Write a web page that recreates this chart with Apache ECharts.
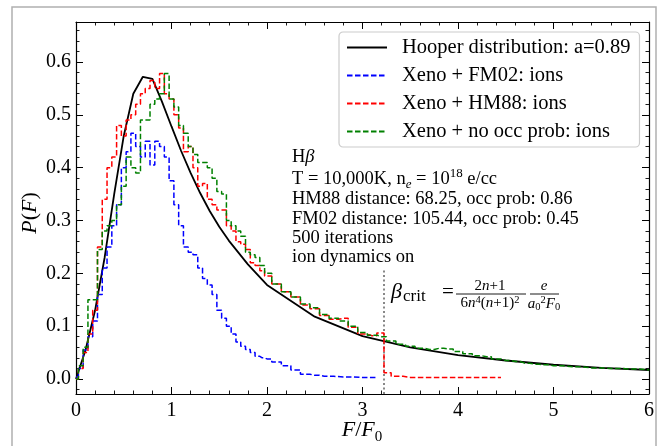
<!DOCTYPE html>
<html><head><meta charset="utf-8">
<script src="https://cdn.jsdelivr.net/npm/echarts@6/dist/echarts.min.js"></script>
<style>html,body{margin:0;padding:0;background:#fff}#c{width:664px;height:446px}</style>
</head><body><div id="c"></div>
<script>
// ---- data ----
const hooperF = [0,0.1,0.2,0.3,0.4,0.5,0.6,0.7,0.8,0.9,1.0,1.1,1.2,1.3,1.4,1.5,1.6,1.8,2.0,2.5,3.0,3.5,4.0,4.5,5.0,5.5,6.0];
const hooperP = [0,0.055,0.13,0.23,0.35,0.46,0.54,0.572,0.568,0.525,0.478,0.432,0.39,0.352,0.318,0.288,0.262,0.217,0.178,0.118,0.081,0.06,0.045,0.035,0.027,0.021,0.017];

const fm02F = [0,0.05,0.1,0.15,0.2,0.25,0.3,0.35,0.4,0.45,0.5,0.55,0.6,0.65,0.7,0.75,0.8,0.85,0.9,0.95,1.0,1.05,1.1,1.15,1.2,1.25,1.3,1.35,1.4,1.45,1.5,1.55,1.6,1.65,1.7,1.75,1.8,1.85,1.9,1.95,2.0,2.1,2.2,2.3,2.4,2.5,2.6,2.8,3.0,3.15];
const fm02P = [0.004,0.02,0.055,0.08,0.11,0.16,0.21,0.25,0.29,0.33,0.40,0.43,0.465,0.44,0.42,0.45,0.405,0.45,0.44,0.42,0.375,0.33,0.29,0.25,0.24,0.235,0.21,0.19,0.178,0.16,0.13,0.115,0.10,0.085,0.07,0.062,0.056,0.05,0.043,0.04,0.038,0.032,0.025,0.017,0.009,0.007,0.005,0.004,0.003,0.003];

const hm88F = [0,0.05,0.1,0.15,0.2,0.25,0.3,0.35,0.4,0.45,0.5,0.55,0.6,0.65,0.7,0.75,0.8,0.85,0.9,0.95,1.0,1.05,1.1,1.15,1.2,1.25,1.3,1.35,1.4,1.45,1.5,1.55,1.6,1.65,1.7,1.75,1.8,1.85,1.9,1.95,2.0,2.1,2.2,2.3,2.4,2.5,2.6,2.7,2.8,2.9,3.0,3.1,3.2,3.25,3.35,3.5,4.0,4.45];
const hm88P = [0,0.02,0.05,0.085,0.13,0.25,0.34,0.40,0.42,0.48,0.46,0.49,0.50,0.52,0.54,0.55,0.565,0.55,0.578,0.54,0.53,0.50,0.475,0.43,0.44,0.40,0.365,0.37,0.34,0.33,0.32,0.32,0.29,0.28,0.26,0.255,0.245,0.22,0.215,0.205,0.195,0.18,0.165,0.155,0.14,0.133,0.12,0.113,0.115,0.098,0.085,0.082,0.087,0.012,0.005,0.003,0.003,0.003];

const noOccF = [0,0.05,0.1,0.15,0.2,0.25,0.3,0.35,0.4,0.45,0.5,0.55,0.6,0.65,0.7,0.75,0.8,0.85,0.9,0.95,1.0,1.05,1.1,1.15,1.2,1.25,1.3,1.35,1.4,1.45,1.5,1.55,1.6,1.65,1.7,1.75,1.8,1.85,1.9,1.95,2.0,2.1,2.2,2.3,2.4,2.5,2.6,2.7,2.8,2.9,3.0,3.1,3.2,3.3,3.4,3.5,3.6,3.7,3.8,3.9,4.0,4.1,4.2,4.3,4.4,4.5,4.6,4.7,4.8,4.9,5.0,5.2,5.4,5.6,5.8,6.0];
const noOccP = [0,0.025,0.06,0.15,0.15,0.245,0.28,0.29,0.30,0.33,0.365,0.42,0.40,0.39,0.49,0.49,0.52,0.53,0.54,0.578,0.53,0.515,0.48,0.465,0.44,0.425,0.41,0.41,0.40,0.38,0.355,0.35,0.30,0.29,0.28,0.27,0.24,0.235,0.23,0.215,0.20,0.18,0.165,0.155,0.142,0.135,0.122,0.115,0.11,0.10,0.088,0.083,0.08,0.072,0.066,0.062,0.058,0.056,0.058,0.057,0.052,0.048,0.044,0.042,0.038,0.035,0.033,0.03,0.028,0.027,0.025,0.023,0.021,0.02,0.019,0.017];

const seriesNames = ['Hooper distribution: a=0.89','Xeno + FM02: ions','Xeno + HM88: ions','Xeno + no occ prob: ions'];
const xTicks = [0,1,2,3,4,5,6];
const yTicks = [0,0.1,0.2,0.3,0.4,0.5,0.6];
const betaCrit = 3.22;      // F/F0 of the dotted marker line
const betaLineTop = 0.21;   // top of the dotted marker line

// ---- layout ----
const FONT = "'Liberation Serif', 'DejaVu Serif', serif";
const G = {left:76, top:22, width:573, height:372};
const Y_MIN = -0.0284, Y_MAX = 0.6757;
function yPix(v){ return G.top + (Y_MAX - v)/(Y_MAX - Y_MIN)*G.height; }
const g1Top = yPix(yTicks[yTicks.length-1]), g1Bot = yPix(yTicks[0]);
const g2Top = yPix(0.66), g2Bot = yPix(-0.02);

const pairs = (xs, ys) => xs.map((x,i)=>[x, ys[i]]);
const dash = [5.5, 2.5];

const axBlack = {color:'#000', width:1.2};
function xAx(grid, pos, labels){
  return {type:'value', gridIndex:grid, position:pos, min:xTicks[0], max:xTicks[xTicks.length-1], interval:1,
    axisLine:{show:true, onZero:false, lineStyle:axBlack},
    axisTick:{show:true, inside:true, length:7, lineStyle:{color:'#000', width:1}},
    minorTick:{show:true, splitNumber:5, length:3.5, lineStyle:{color:'#000', width:0.9}},
    splitLine:{show:false}, minorSplitLine:{show:false},
    axisLabel:{show:labels, fontFamily:FONT, fontSize:20, color:'#000', margin:7}};
}

const chart = echarts.init(document.getElementById('c'), null, {renderer:'canvas'});
chart.setOption({
  animation:false,
  backgroundColor:'#fff',
  grid:[
    {left:G.left, top:G.top, width:G.width, height:G.height},
    {left:G.left, top:g1Top, width:G.width, height:g1Bot-g1Top},
    {left:G.left, top:g2Top, width:G.width, height:g2Bot-g2Top}
  ],
  xAxis:[
    xAx(0,'bottom',true), xAx(0,'top',false),
    {type:'value', gridIndex:1, min:0, max:6, show:false},
    {type:'value', gridIndex:2, min:0, max:6, show:false}
  ],
  yAxis:[
    {type:'value', gridIndex:0, position:'left', min:Y_MIN, max:Y_MAX, axisLine:{show:true,onZero:false,lineStyle:axBlack}, axisTick:{show:false}, axisLabel:{show:false}, splitLine:{show:false}},
    {type:'value', gridIndex:0, position:'right', min:Y_MIN, max:Y_MAX, axisLine:{show:true,onZero:false,lineStyle:axBlack}, axisTick:{show:false}, axisLabel:{show:false}, splitLine:{show:false}},
    {type:'value', gridIndex:1, position:'left', min:0, max:0.6, interval:0.1, axisLine:{show:false}, axisTick:{show:true,inside:true,length:7,lineStyle:{color:'#000',width:1}}, axisLabel:{show:true, fontFamily:FONT, fontSize:20, color:'#000', margin:5, formatter:v=>v.toFixed(1)}, splitLine:{show:false}},
    {type:'value', gridIndex:1, position:'right', min:0, max:0.6, interval:0.1, axisLine:{show:false}, axisTick:{show:true,inside:true,length:7,lineStyle:{color:'#000',width:1}}, axisLabel:{show:false}, splitLine:{show:false}},
    {type:'value', gridIndex:2, position:'left', min:-0.02, max:0.66, interval:0.02, axisLine:{show:false}, axisTick:{show:true,inside:true,length:3.5,lineStyle:{color:'#000',width:0.9}}, axisLabel:{show:false}, splitLine:{show:false}},
    {type:'value', gridIndex:2, position:'right', min:-0.02, max:0.66, interval:0.02, axisLine:{show:false}, axisTick:{show:true,inside:true,length:3.5,lineStyle:{color:'#000',width:0.9}}, axisLabel:{show:false}, splitLine:{show:false}}
  ],
  legend:{
    orient:'vertical', left:339, top:32, padding:[5,9,5,7],
    itemWidth:40, itemHeight:12, itemGap:7,
    backgroundColor:'#fff', borderColor:'#cccccc', borderWidth:1.2, borderRadius:4,
    itemStyle:{opacity:0, borderWidth:0},
    textStyle:{fontFamily:FONT, fontSize:20.5, color:'#000', lineHeight:20, padding:[0,0,0,10]},
    data:seriesNames
  },
  series:[
    {name:seriesNames[0], type:'line', xAxisIndex:0, yAxisIndex:0, symbol:'none', data:pairs(hooperF,hooperP), lineStyle:{color:'#000', width:1.8}, itemStyle:{color:'#000'}, z:3},
    {name:seriesNames[1], type:'line', xAxisIndex:0, yAxisIndex:0, symbol:'none', step:'middle', data:pairs(fm02F,fm02P), lineStyle:{color:'#0000ff', width:1.5, type:dash}, itemStyle:{color:'#0000ff'}, z:4,
      markLine:{silent:true, symbol:'none', label:{show:false}, lineStyle:{color:'#888', width:2, type:[2,2.5]},
        data:[[{coord:[betaCrit, Y_MIN]},{coord:[betaCrit, betaLineTop]}]]}},
    {name:seriesNames[2], type:'line', xAxisIndex:0, yAxisIndex:0, symbol:'none', step:'middle', data:pairs(hm88F,hm88P), lineStyle:{color:'#ff0000', width:1.5, type:dash}, itemStyle:{color:'#ff0000'}, z:5},
    {name:seriesNames[3], type:'line', xAxisIndex:0, yAxisIndex:0, symbol:'none', step:'middle', data:pairs(noOccF,noOccP), lineStyle:{color:'#008000', width:1.5, type:dash}, itemStyle:{color:'#008000'}, z:6}
  ],
  graphic:[
    {type:'rect', shape:{x:12, y:7, width:644, height:460}, style:{fill:'none', stroke:'#b0b0b0', lineWidth:1.5}, z:-10, silent:true},
    // axis titles
    {type:'text', x:362, y:432, style:{text:'{i|F}{a|/}{i|F}{s|0}', align:'center', verticalAlign:'middle',
      rich:{i:{fontFamily:FONT, fontSize:22, fontStyle:'italic', verticalAlign:'top', lineHeight:26}, a:{fontFamily:FONT, fontSize:22, verticalAlign:'top', lineHeight:26}, s:{fontFamily:FONT, fontSize:15, verticalAlign:'bottom', lineHeight:26}},
      fill:'#000'}},
    {type:'text', x:30, y:213, rotation:Math.PI/2, style:{text:'{i|P}{a|(}{i|F}{a|)}', align:'center', verticalAlign:'middle',
      rich:{i:{fontFamily:FONT, fontSize:22, fontStyle:'italic'}, a:{fontFamily:FONT, fontSize:22}}, fill:'#000'}},
    // annotation block
    {type:'text', x:292, y:157, style:{text:'{a|H}{i|β}', verticalAlign:'middle', fill:'#000', rich:{a:{fontFamily:FONT, fontSize:18.5}, i:{fontFamily:FONT, fontSize:18.5, fontStyle:'italic'}}}},
    {type:'text', x:292, y:179, style:{text:'{a|T = 10,000K, n}{b|e}{a| = 10}{c|18}{a| e/cc}', verticalAlign:'middle', fill:'#000',
      rich:{a:{fontFamily:FONT, fontSize:18.5, lineHeight:24, verticalAlign:'middle'}, b:{fontFamily:FONT, fontSize:13, fontStyle:'italic', lineHeight:24, verticalAlign:'bottom'}, c:{fontFamily:FONT, fontSize:13, lineHeight:24, verticalAlign:'top'}}}},
    {type:'text', x:292, y:199, style:{text:'HM88 distance: 68.25, occ prob: 0.86', verticalAlign:'middle', fontFamily:FONT, fontSize:18.5, fill:'#000'}},
    {type:'text', x:292, y:219, style:{text:'FM02 distance: 105.44, occ prob: 0.45', verticalAlign:'middle', fontFamily:FONT, fontSize:18.5, fill:'#000'}},
    {type:'text', x:292, y:238, style:{text:'500 iterations', verticalAlign:'middle', fontFamily:FONT, fontSize:18.5, fill:'#000'}},
    {type:'text', x:292, y:257, style:{text:'ion dynamics on', verticalAlign:'middle', fontFamily:FONT, fontSize:18.5, fill:'#000'}},
    // beta_crit formula
    {type:'text', x:391, y:292, style:{text:'{b|β}{s|crit}', verticalAlign:'middle', fill:'#000',
      rich:{b:{fontFamily:FONT, fontSize:22, fontStyle:'italic', lineHeight:26, verticalAlign:'middle'}, s:{fontFamily:FONT, fontSize:17, lineHeight:26, verticalAlign:'bottom', padding:[0,0,0,1]}}}},
    {type:'text', x:448, y:292, style:{text:'=', align:'center', verticalAlign:'middle', fontFamily:FONT, fontSize:21, fill:'#000'}},
    {type:'text', x:490, y:286, style:{text:'{a|2}{i|n}{a|+1}', align:'center', verticalAlign:'middle', fill:'#000', rich:{a:{fontFamily:FONT, fontSize:15}, i:{fontFamily:FONT, fontSize:15, fontStyle:'italic'}}}},
    {type:'line', shape:{x1:456, y1:294, x2:526, y2:294}, style:{stroke:'#000', lineWidth:0.9}},
    {type:'text', x:490, y:303, style:{text:'{a|6}{i|n}{p|4}{a|(}{i|n}{a|+1)}{p|2}', align:'center', verticalAlign:'middle', fill:'#000',
      rich:{a:{fontFamily:FONT, fontSize:15, lineHeight:16, verticalAlign:'bottom'}, i:{fontFamily:FONT, fontSize:15, fontStyle:'italic', lineHeight:16, verticalAlign:'bottom'}, p:{fontFamily:FONT, fontSize:10.5, lineHeight:16, verticalAlign:'top'}}}},
    {type:'text', x:544, y:286, style:{text:'{i|e}', align:'center', verticalAlign:'middle', fill:'#000', rich:{i:{fontFamily:FONT, fontSize:15, fontStyle:'italic'}}}},
    {type:'line', shape:{x1:530, y1:294, x2:559, y2:294}, style:{stroke:'#000', lineWidth:0.9}},
    {type:'text', x:544, y:304, style:{text:'{i|a}{s|0}{p|2}{i|F}{s|0}', align:'center', verticalAlign:'middle', fill:'#000',
      rich:{i:{fontFamily:FONT, fontSize:15, fontStyle:'italic', lineHeight:18, verticalAlign:'middle'}, s:{fontFamily:FONT, fontSize:10.5, lineHeight:18, verticalAlign:'bottom'}, p:{fontFamily:FONT, fontSize:10.5, lineHeight:18, verticalAlign:'top'}}}}
  ]
});
</script>
</body></html>
